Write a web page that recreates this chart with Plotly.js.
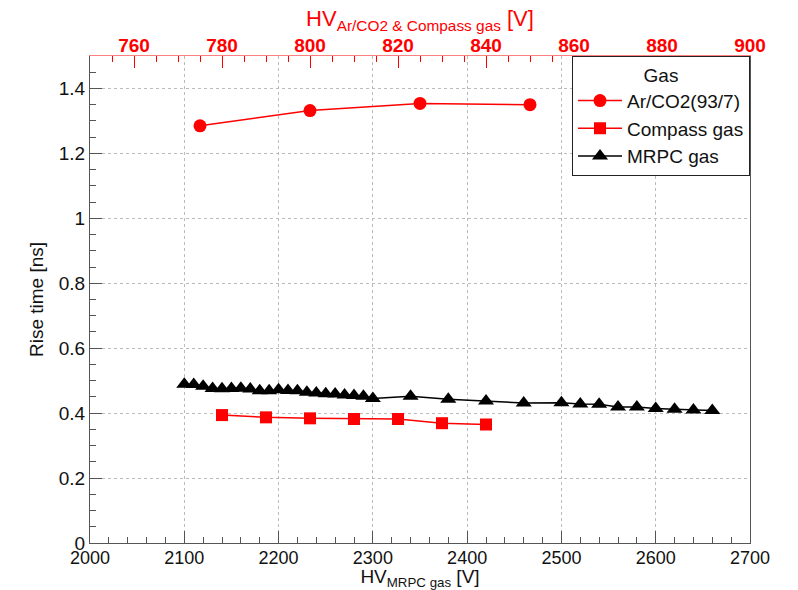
<!DOCTYPE html>
<html>
<head>
<meta charset="utf-8">
<script src="https://cdn.plot.ly/plotly-3.0.1.min.js"></script>
<style>html,body{margin:0;padding:0;background:#fff}</style>
</head>
<body>
<div id="chart" style="width:798px;height:590px"></div>
<script>
// Ar/CO2 (93/7) and Compass gas share the upper HV scale
const arHV = [775, 800, 825, 850];
const arRise = [1.285, 1.332, 1.354, 1.350];

const compassHV = [780, 790, 800, 810, 820, 830, 840];
const compassRise = [0.394, 0.387, 0.384, 0.382, 0.382, 0.369, 0.365];

// MRPC gas uses the lower HV scale
const mrpcHV = [2100, 2110, 2120, 2130, 2140, 2150, 2160, 2170, 2180, 2190,
                2200, 2210, 2220, 2230, 2240, 2250, 2260, 2270, 2280, 2290,
                2300, 2340, 2380, 2420, 2460, 2500, 2520, 2540, 2560, 2580,
                2600, 2620, 2640, 2660];
const mrpcRise = [0.489, 0.488, 0.483, 0.476, 0.475, 0.476, 0.477, 0.474, 0.469, 0.469,
                  0.472, 0.470, 0.469, 0.464, 0.462, 0.460, 0.459, 0.456, 0.454, 0.452,
                  0.445, 0.452, 0.443, 0.437, 0.431, 0.432, 0.428, 0.427, 0.419, 0.419,
                  0.414, 0.412, 0.410, 0.408];

const legendTitle = 'Gas';
const seriesNames = ['Ar/CO2(93/7)', 'Compass gas', 'MRPC gas'];

const FONT = '"Liberation Sans", Arial, sans-serif';
const RED = '#ff0000';

const traces = [
  {
    x: arHV, y: arRise, name: seriesNames[0], xaxis: 'x2', yaxis: 'y',
    type: 'scatter', mode: 'lines+markers',
    line: {color: RED, width: 1.5},
    marker: {symbol: 'circle', size: 13, color: RED}
  },
  {
    x: compassHV, y: compassRise, name: seriesNames[1], xaxis: 'x2', yaxis: 'y',
    type: 'scatter', mode: 'lines+markers',
    line: {color: RED, width: 1.5},
    marker: {symbol: 'square', size: 12, color: RED}
  },
  {
    x: mrpcHV, y: mrpcRise, name: seriesNames[2], xaxis: 'x', yaxis: 'y',
    type: 'scatter', mode: 'lines+markers',
    line: {color: '#000', width: 1.5},
    marker: {symbol: 'triangle-up', size: 14, color: '#000'}
  }
];

const layout = {
  width: 798, height: 590,
  margin: {l: 90, r: 48, t: 56, b: 47},
  paper_bgcolor: '#fff', plot_bgcolor: '#fff',
  font: {family: FONT, size: 19, color: '#111'},
  showlegend: true,
  legend: {
    x: 1, y: 1, xanchor: 'right', yanchor: 'top',
    bgcolor: '#fff', bordercolor: '#222', borderwidth: 1,
    font: {family: FONT, size: 19, color: '#111'},
    title: {text: legendTitle, side: 'top center', font: {family: FONT, size: 19}},
    traceorder: 'normal', itemwidth: 44
  },
  xaxis: {
    range: [2000, 2700], dtick: 100, tick0: 2000,
    ticks: 'inside', ticklen: 12, tickcolor: '#555', tickwidth: 1,
    minor: {dtick: 20, ticks: 'inside', ticklen: 6, tickcolor: '#555', showgrid: false},
    showline: true, linecolor: '#555', linewidth: 1, mirror: false,
    showgrid: true, gridcolor: '#bbb', griddash: 'dot', gridwidth: 1,
    zeroline: false,
    ticklabelstandoff: -2,
    tickfont: {family: FONT, size: 18, color: '#111'},
    title: {text: 'HV<sub>MRPC gas</sub> [V]', font: {family: FONT, size: 19, color: '#111'}, standoff: 0}
  },
  xaxis2: {
    range: [750, 900], dtick: 20, tick0: 760, overlaying: 'x', side: 'top', anchor: 'y',
    ticks: 'inside', ticklen: 12, tickcolor: RED, tickwidth: 1,
    minor: {dtick: 5, ticks: 'inside', ticklen: 6, tickcolor: RED, showgrid: false},
    showline: true, linecolor: '#ff8080', linewidth: 1,
    showgrid: false, zeroline: false,
    ticklabelstandoff: -5,
    tickfont: {family: FONT, size: 19, color: RED, weight: 'bold'},
    title: {text: 'HV<sub>Ar/CO2 &amp; Compass gas</sub> [V]', font: {family: FONT, size: 22, color: RED}, standoff: 2}
  },
  yaxis: {
    range: [0, 1.5], dtick: 0.2, tick0: 0,
    ticks: 'inside', ticklen: 12, tickcolor: '#555', tickwidth: 1,
    minor: {dtick: 0.05, ticks: 'inside', ticklen: 6, tickcolor: '#555', showgrid: false},
    showline: true, linecolor: '#555', linewidth: 1, mirror: true,
    showgrid: true, gridcolor: '#bbb', griddash: 'dot', gridwidth: 1,
    zeroline: false,
    tickfont: {family: FONT, size: 19, color: '#111'},
    title: {text: 'Rise time [ns]', font: {family: FONT, size: 19, color: '#111'}, standoff: 10}
  }
};

Plotly.newPlot('chart', traces, layout, {displayModeBar: false, staticPlot: true});
</script>
</body>
</html>
